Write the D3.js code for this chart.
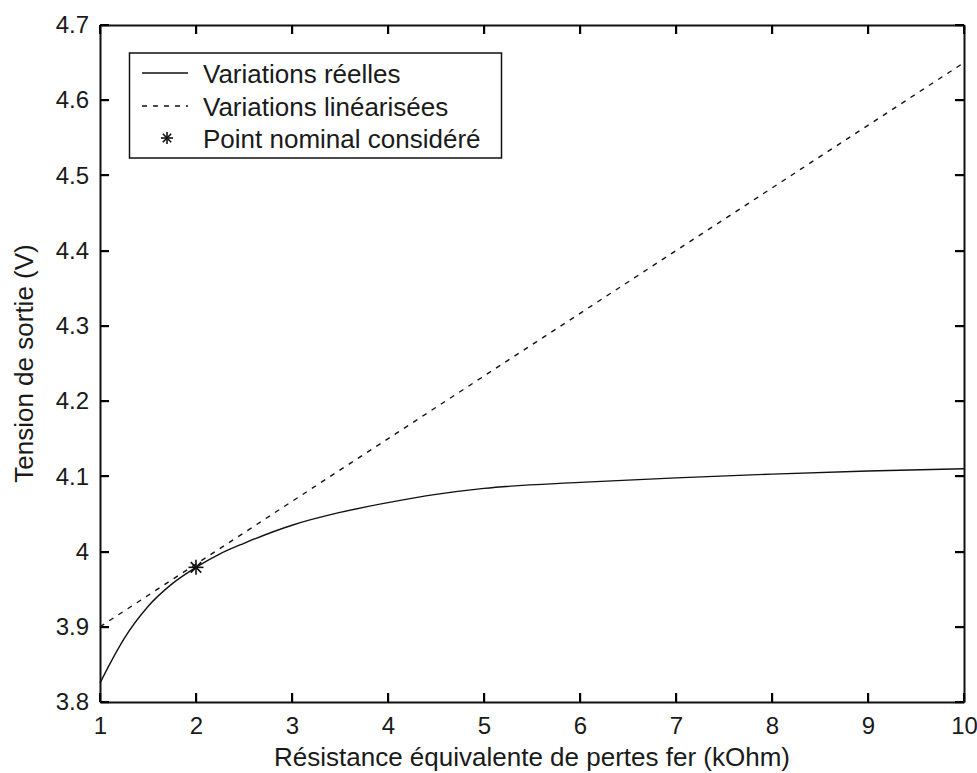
<!DOCTYPE html>
<html><head><meta charset="utf-8">
<script src="https://cdn.jsdelivr.net/npm/d3@7"></script>
<style>body{margin:0;background:#fff}svg{display:block}text{font-family:"Liberation Sans",Arial,sans-serif;fill:#1a1a1a}</style>
</head><body>
<script>
// Data
const realR = [1, 1.1, 1.25, 1.5, 1.75, 2, 2.25, 2.5, 3, 3.5, 4, 4.5, 5, 6, 7, 8, 9, 10];
const realV = [3.825, 3.850, 3.884, 3.927, 3.957, 3.979, 3.997, 4.011, 4.035, 4.052, 4.065, 4.076, 4.084, 4.092, 4.098, 4.103, 4.107, 4.110];
const linR = [1, 10];
const linV = [3.90, 4.65];
const nominalR = [2];
const nominalV = [3.979];
const xTicks = [1, 2, 3, 4, 5, 6, 7, 8, 9, 10];
const yTicks = [3.8, 3.9, 4, 4.1, 4.2, 4.3, 4.4, 4.5, 4.6, 4.7];
const legendLabels = ["Variations réelles", "Variations linéarisées", "Point nominal considéré"];
const xTitle = "Résistance équivalente de pertes fer (kOhm)";
const yTitle = "Tension de sortie (V)";

const W = 977, H = 773;
const m = {l: 100, r: 13, t: 25, b: 71};
const svg = d3.select("body").append("svg").attr("width", W).attr("height", H);
const x = d3.scaleLinear().domain([1, 10]).range([m.l, W - m.r]);
const y = d3.scaleLinear().domain([3.8, 4.7]).range([H - m.b, m.t]);
const fs = 26, tfs = 24;
const ink = "#111";
const tl = 9;

// data lines
svg.append("path").datum(realR.map((r, i) => [r, realV[i]]))
  .attr("d", d3.line().x(d => x(d[0])).y(d => y(d[1])).curve(d3.curveMonotoneX))
  .attr("fill", "none").attr("stroke", ink).attr("stroke-width", 1.4);
svg.append("path").datum(linR.map((r, i) => [r, linV[i]]))
  .attr("d", d3.line().x(d => x(d[0])).y(d => y(d[1]))).attr("fill", "none").attr("stroke", ink)
  .attr("stroke-width", 1.4).attr("stroke-dasharray", "5,6");

function star(gg, cx, cy, s) {
  const p = [[-s, 0, s, 0], [0, -s, 0, s], [-s * .7, -s * .7, s * .7, s * .7], [-s * .7, s * .7, s * .7, -s * .7]];
  p.forEach(q => gg.append("line").attr("x1", cx + q[0]).attr("y1", cy + q[1]).attr("x2", cx + q[2]).attr("y2", cy + q[3])
    .attr("stroke", ink).attr("stroke-width", 1.6));
}
nominalR.forEach((r, i) => star(svg, x(r), y(nominalV[i]), 7.5));

// axes (lines + labels through d3 axes)
function style(g) {
  g.attr("font-family", null).attr("font-size", tfs);
  g.select(".domain").attr("stroke", ink).attr("stroke-width", 2);
  g.selectAll(".tick line").remove();
  g.selectAll(".tick text").attr("fill", "#1a1a1a");
}
svg.append("g").attr("transform", `translate(0,${y(3.8)})`)
  .call(d3.axisBottom(x).tickValues(xTicks).tickFormat(d3.format("d")).tickSizeInner(0).tickSizeOuter(0).tickPadding(15)).call(style);
svg.append("g").attr("transform", `translate(0,${y(4.7)})`)
  .call(d3.axisTop(x).tickValues(xTicks).tickFormat("").tickSizeInner(0).tickSizeOuter(0)).call(style);
svg.append("g").attr("transform", `translate(${x(1)},0)`)
  .call(d3.axisLeft(y).tickValues(yTicks).tickFormat(d => String(+d.toFixed(1))).tickSizeInner(0).tickSizeOuter(0).tickPadding(11)).call(style);
svg.append("g").attr("transform", `translate(${x(10)},0)`)
  .call(d3.axisRight(y).tickValues(yTicks).tickFormat("").tickSizeInner(0).tickSizeOuter(0)).call(style);

// inward tick marks as filled rects (from the same scales)
const tg = svg.append("g").attr("fill", "#000");
xTicks.forEach(t => {
  tg.append("rect").attr("x", Math.round(x(t)) - 1).attr("y", y(3.8) - tl).attr("width", 2.2).attr("height", tl);
  tg.append("rect").attr("x", Math.round(x(t)) - 1).attr("y", y(4.7)).attr("width", 2.2).attr("height", tl);
});
yTicks.forEach(t => {
  tg.append("rect").attr("y", Math.round(y(t)) - 1).attr("x", x(1)).attr("height", 2.2).attr("width", tl);
  tg.append("rect").attr("y", Math.round(y(t)) - 1).attr("x", x(10) - tl).attr("height", 2.2).attr("width", tl);
});

// titles
svg.append("text").attr("x", (x(1) + x(10)) / 2).attr("y", 766).attr("text-anchor", "middle").attr("font-size", fs).text(xTitle);
svg.append("text").attr("transform", `translate(33,${(y(3.8) + y(4.7)) / 2}) rotate(-90)`).attr("text-anchor", "middle").attr("font-size", fs).text(yTitle);

// legend
const lg = svg.append("g");
lg.append("rect").attr("x", 129.5).attr("y", 53).attr("width", 372).attr("height", 105).attr("fill", "#fff").attr("stroke", ink).attr("stroke-width", 1.5);
const ly = [73, 106, 138];
lg.append("line").attr("x1", 142).attr("x2", 188).attr("y1", ly[0]).attr("y2", ly[0]).attr("stroke", ink).attr("stroke-width", 1.4);
lg.append("line").attr("x1", 142).attr("x2", 188).attr("y1", ly[1]).attr("y2", ly[1]).attr("stroke", ink).attr("stroke-width", 1.4).attr("stroke-dasharray", "5,6");
star(lg, 167, ly[2], 6);
legendLabels.forEach((l, i) => lg.append("text").attr("x", 203).attr("y", ly[i] + 10).attr("font-size", fs).text(l));
</script>
</body></html>
